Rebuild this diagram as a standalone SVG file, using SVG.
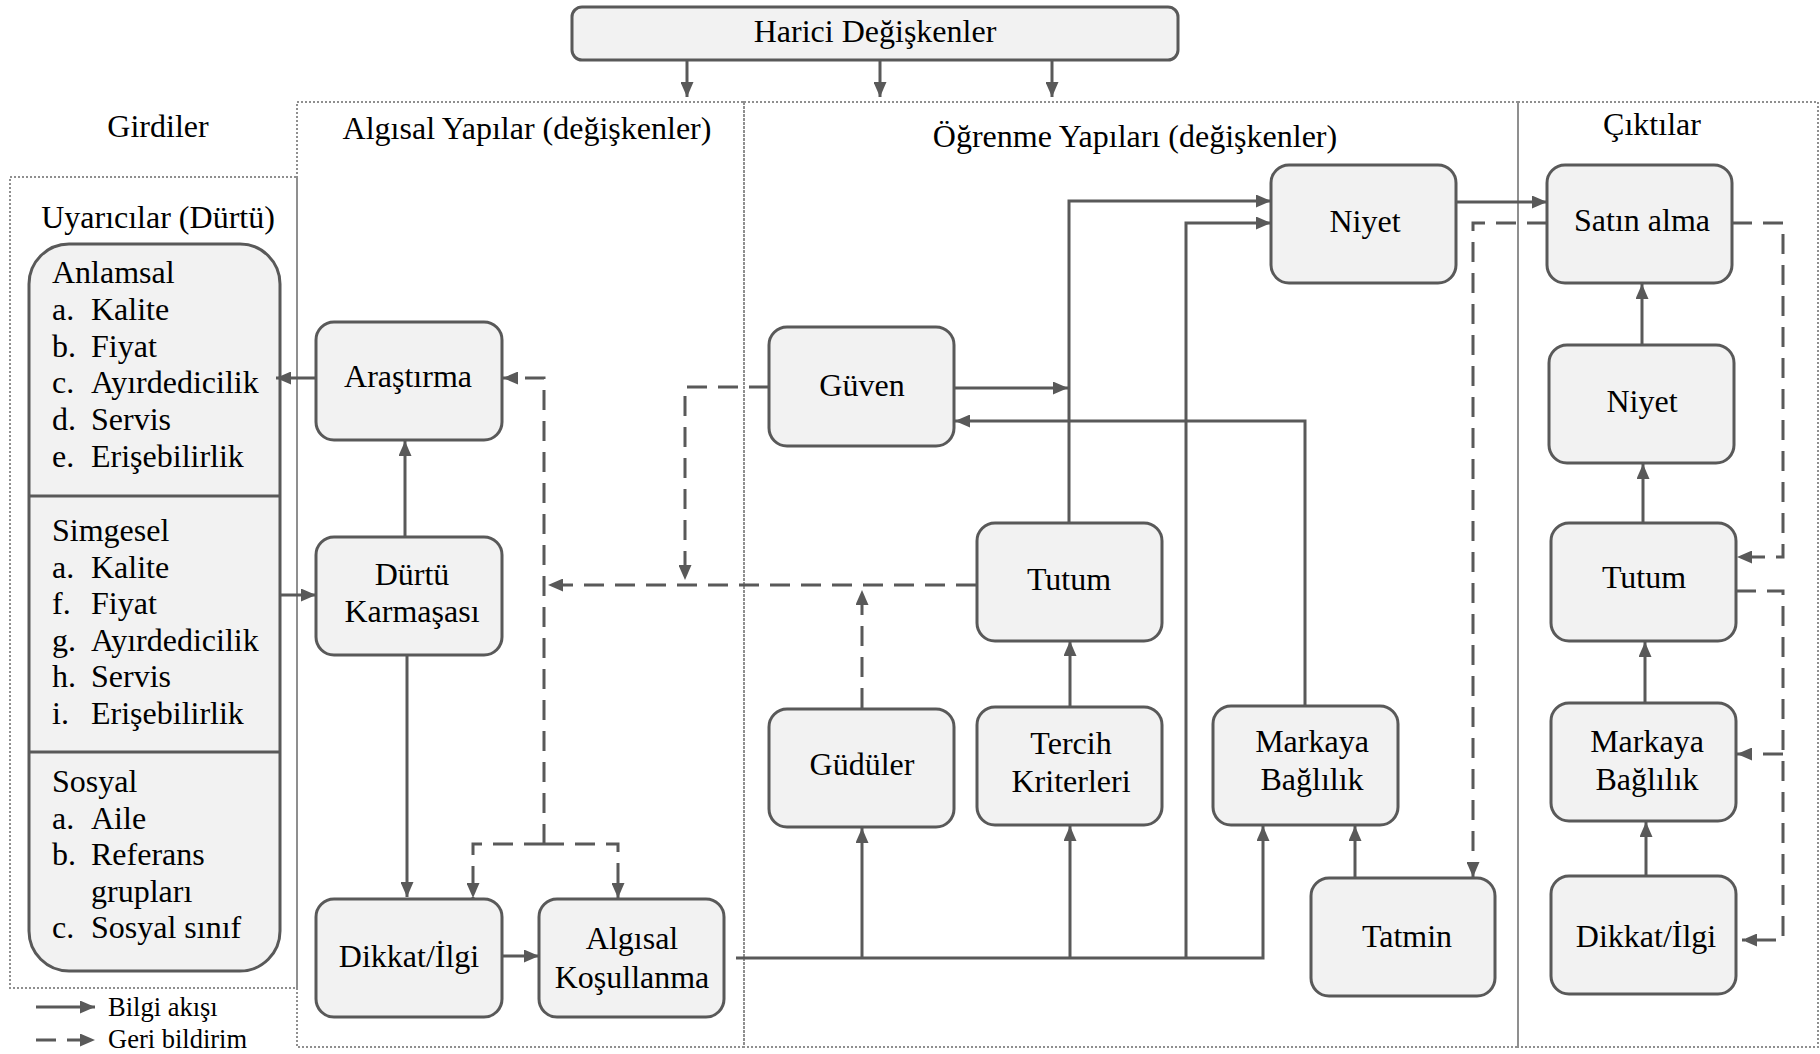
<svg xmlns="http://www.w3.org/2000/svg" width="1820" height="1054" viewBox="0 0 1820 1054">
<defs>
<style>
text{font-family:"Liberation Serif","Times New Roman",serif;font-size:32px;fill:#000}
.c{text-anchor:middle}
.nd{fill:#f2f2f2;stroke:#595959;stroke-width:3}
.rg{fill:none;stroke:#8f8f8f;stroke-width:2;stroke-dasharray:2 2}
.s{fill:none;stroke:#595959;stroke-width:3}
.d{fill:none;stroke:#595959;stroke-width:3;stroke-dasharray:20 11}
.lg{font-size:26.5px}
</style>
<marker id="ah" viewBox="0 0 15 13" refX="15" refY="6.5" markerWidth="15" markerHeight="13" markerUnits="userSpaceOnUse" orient="auto"><path d="M0,0 L15,6.5 L0,13 z" fill="#595959"/></marker>
</defs>
<rect width="1820" height="1054" fill="#fff"/>
<g id="regions">
<rect class="rg" x="10" y="177" width="287" height="811"/>
<rect class="rg" x="297" y="102" width="447" height="945"/>
<rect class="rg" x="744" y="102" width="774" height="945"/>
<rect class="rg" x="1518" y="102" width="300" height="945"/>
<text class="c" x="158" y="137">Girdiler</text>
<text class="c" x="527" y="139">Algısal Yapılar (değişkenler)</text>
<text class="c" x="1135" y="147">Öğrenme Yapıları (değişkenler)</text>
<text class="c" x="1652" y="135">Çıktılar</text>
<text class="c" x="158" y="228">Uyarıcılar (Dürtü)</text>
</g>
<g id="harici"><rect class="nd" x="572" y="7" width="606" height="53" rx="10"/><text class="c" x="875" y="42">Harici Değişkenler</text></g>
<g id="uyaricilar">
<rect class="nd" x="29" y="244" width="251" height="727" rx="40"/>
<line x1="30" y1="496" x2="279" y2="496" stroke="#595959" stroke-width="3"/>
<line x1="30" y1="752" x2="279" y2="752" stroke="#595959" stroke-width="3"/>
<text x="52" y="283">Anlamsal</text>
<text x="52" y="320">a.</text><text x="91" y="320">Kalite</text>
<text x="52" y="357">b.</text><text x="91" y="357">Fiyat</text>
<text x="52" y="393">c.</text><text x="91" y="393">Ayırdedicilik</text>
<text x="52" y="430">d.</text><text x="91" y="430">Servis</text>
<text x="52" y="467">e.</text><text x="91" y="467">Erişebilirlik</text>
<text x="52" y="541">Simgesel</text>
<text x="52" y="578">a.</text><text x="91" y="578">Kalite</text>
<text x="52" y="614">f.</text><text x="91" y="614">Fiyat</text>
<text x="52" y="651">g.</text><text x="91" y="651">Ayırdedicilik</text>
<text x="52" y="687">h.</text><text x="91" y="687">Servis</text>
<text x="52" y="724">i.</text><text x="91" y="724">Erişebilirlik</text>
<text x="52" y="792">Sosyal</text>
<text x="52" y="829">a.</text><text x="91" y="829">Aile</text>
<text x="52" y="865">b.</text><text x="91" y="865">Referans</text>
<text x="91" y="902">grupları</text>
<text x="52" y="938">c.</text><text x="91" y="938">Sosyal sınıf</text>
</g>
<g id="arastirma"><rect class="nd" x="316" y="322" width="186" height="118" rx="18"/><text class="c" x="408" y="387">Araştırma</text></g>
<g id="durtu"><rect class="nd" x="316" y="537" width="186" height="118" rx="18"/><text class="c" x="412" y="585">Dürtü</text><text class="c" x="412" y="622">Karmaşası</text></g>
<g id="dikkat1"><rect class="nd" x="316" y="899" width="186" height="118" rx="18"/><text class="c" x="409" y="967">Dikkat/İlgi</text></g>
<g id="algisal"><rect class="nd" x="539" y="899" width="185" height="118" rx="18"/><text class="c" x="632" y="949">Algısal</text><text class="c" x="632" y="988">Koşullanma</text></g>
<g id="guven"><rect class="nd" x="769" y="327" width="185" height="119" rx="18"/><text class="c" x="862" y="396">Güven</text></g>
<g id="niyet1"><rect class="nd" x="1271" y="165" width="185" height="118" rx="18"/><text class="c" x="1365" y="232">Niyet</text></g>
<g id="tutum1"><rect class="nd" x="977" y="523" width="185" height="118" rx="18"/><text class="c" x="1069" y="590">Tutum</text></g>
<g id="guduler"><rect class="nd" x="769" y="709" width="185" height="118" rx="18"/><text class="c" x="862" y="775">Güdüler</text></g>
<g id="tercih"><rect class="nd" x="977" y="707" width="185" height="118" rx="18"/><text class="c" x="1071" y="754">Tercih</text><text class="c" x="1071" y="792">Kriterleri</text></g>
<g id="markaya1"><rect class="nd" x="1213" y="706" width="185" height="119" rx="18"/><text class="c" x="1312" y="752">Markaya</text><text class="c" x="1312" y="790">Bağlılık</text></g>
<g id="tatmin"><rect class="nd" x="1311" y="878" width="184" height="118" rx="18"/><text class="c" x="1407" y="947">Tatmin</text></g>
<g id="satin"><rect class="nd" x="1547" y="165" width="185" height="118" rx="18"/><text class="c" x="1642" y="231">Satın alma</text></g>
<g id="niyet2"><rect class="nd" x="1549" y="345" width="185" height="118" rx="18"/><text class="c" x="1642" y="412">Niyet</text></g>
<g id="tutum2"><rect class="nd" x="1551" y="523" width="185" height="118" rx="18"/><text class="c" x="1644" y="588">Tutum</text></g>
<g id="markaya2"><rect class="nd" x="1551" y="703" width="185" height="118" rx="18"/><text class="c" x="1647" y="752">Markaya</text><text class="c" x="1647" y="790">Bağlılık</text></g>
<g id="dikkat2"><rect class="nd" x="1551" y="876" width="185" height="118" rx="18"/><text class="c" x="1646" y="947">Dikkat/İlgi</text></g>
<g id="connectors">
<path class="s" d="M687,60 V97" marker-end="url(#ah)"/>
<path class="s" d="M880,60 V97" marker-end="url(#ah)"/>
<path class="s" d="M1052,60 V97" marker-end="url(#ah)"/>
<path class="s" d="M316,378 H276" marker-end="url(#ah)"/>
<path class="s" d="M405,537 V441" marker-end="url(#ah)"/>
<path class="s" d="M280,595 H316" marker-end="url(#ah)"/>
<path class="s" d="M407,655 V897" marker-end="url(#ah)"/>
<path class="s" d="M502,956 H539" marker-end="url(#ah)"/>
<path class="s" d="M736,958 H1263 V826" marker-end="url(#ah)"/>
<path class="s" d="M862,958 V828" marker-end="url(#ah)"/>
<path class="s" d="M1070,958 V826" marker-end="url(#ah)"/>
<path class="s" d="M1186,958 V223 H1271" marker-end="url(#ah)"/>
<path class="s" d="M1069,523 V201 H1271" marker-end="url(#ah)"/>
<path class="s" d="M954,388 H1068" marker-end="url(#ah)"/>
<path class="s" d="M1305,706 V421 H955" marker-end="url(#ah)"/>
<path class="s" d="M1070,707 V641" marker-end="url(#ah)"/>
<path class="s" d="M1355,878 V826" marker-end="url(#ah)"/>
<path class="s" d="M1457,202 H1547" marker-end="url(#ah)"/>
<path class="s" d="M1642,345 V284" marker-end="url(#ah)"/>
<path class="s" d="M1643,523 V464" marker-end="url(#ah)"/>
<path class="s" d="M1645,703 V642" marker-end="url(#ah)"/>
<path class="s" d="M1646,876 V822" marker-end="url(#ah)"/>
<path class="d" d="M976,585 H548" marker-end="url(#ah)"/>
<path class="d" d="M769,387 H685 V580" marker-end="url(#ah)"/>
<path class="d" d="M862,708 V590" marker-end="url(#ah)"/>
<path class="d" d="M544,844 V378 H503" marker-end="url(#ah)"/>
<path class="d" d="M544,844 H473 V898" marker-end="url(#ah)"/>
<path class="d" d="M544,844 H618 V898" marker-end="url(#ah)"/>
<path class="d" d="M1547,223 H1473 V877" marker-end="url(#ah)"/>
<path class="d" d="M1732,223 H1783 V557 H1737" marker-end="url(#ah)"/>
<path class="d" d="M1736,591 H1783 V940 H1742" marker-end="url(#ah)"/>
<path class="d" d="M1783,754 H1737" marker-end="url(#ah)"/>
</g>
<g id="legend">
<path class="s" d="M36,1007 H95" marker-end="url(#ah)"/>
<path class="d" d="M36,1040 H95" stroke-dasharray="12 8" marker-end="url(#ah)"/>
<text class="lg" x="108" y="1016">Bilgi akışı</text>
<text class="lg" x="108" y="1048">Geri bildirim</text>
</g>
</svg>
